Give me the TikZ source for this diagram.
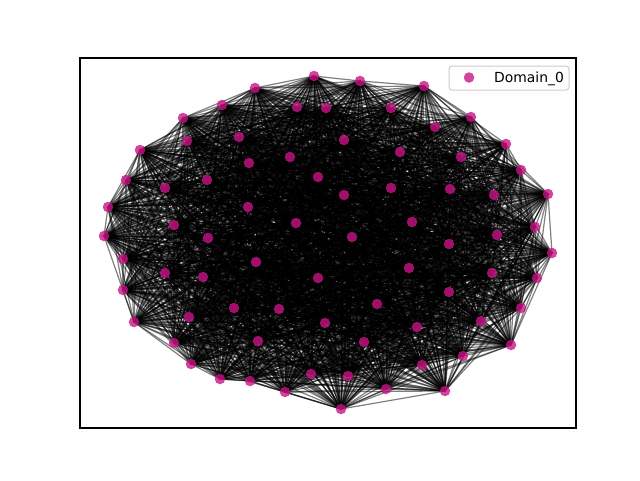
\documentclass[tikz,border=0pt]{standalone}
\usepackage{fontspec}
\setmainfont{DejaVu Sans}
\pgfdeclarelayer{bg}
\pgfsetlayers{bg,main}
\definecolor{dom}{RGB}{199,21,133}
\begin{document}
\begin{tikzpicture}[x=1pt,y=-1pt,
  dot/.style={circle,fill=dom,fill opacity=0.8,draw=none,inner sep=0pt,minimum size=10.5pt},
  edge/.style={black,opacity=0.5,line width=1.2pt},
  frame/.style={black,line width=1.1pt},
  legendbox/.style={draw=black!20,line width=1pt,fill=white,fill opacity=0.8,rounded corners=3pt}]
\useasboundingbox (0,0) rectangle (640,480);
\foreach \i/\x/\y in {1/314/76,2/360/81,3/424/86,4/471/117,5/506/144,6/521/170,7/548/194,8/535/227,9/552/253,10/537/278,
 11/521/308,12/511/345,13/463/356,14/445/391,15/422/365,16/386/389,17/348/376,18/341/409,19/311/374,20/285/392,
 21/250/381,22/220/379,23/191/364,24/174/343,25/134/322,26/123/290,27/123/259,28/104/236,29/108/207,30/126/180,
 31/140/150,32/183/118,33/222/105,34/255/88,35/297/107,36/326/108,37/391/108,38/435/127,39/461/157,40/494/195,
 41/497/235,42/492/273,43/481/321,44/449/292,45/417/327,46/377/304,47/325/323,48/279/309,49/258/341,50/234/308,
 51/189/317,52/165/273,53/174/225,54/165/188,55/187/141,56/239/137,57/249/163,58/290/157,59/344/140,60/400/152,
 61/450/189,62/449/244,63/412/222,64/391/188,65/344/195,66/318/177,67/248/207,68/207/180,69/208/238,70/203/277,
 71/256/262,72/296/223,73/352/237,74/409/268,75/318/278,76/364/342}
 {\node[dot] (n\i) at (\x,\y) {};}
\begin{pgfonlayer}{bg}
\fill[white] (0,0) rectangle (640,480);
\pgfmathsetseed{7}
\foreach \i in {1,...,76}{
  \foreach \j in {\i,...,76}{
    \ifnum\j>\i
      \pgfmathrandominteger{\rr}{1}{100}%
      \ifnum\rr<78 \draw[edge] (n\i.center) -- (n\j.center);\fi
    \fi
  }
}
\end{pgfonlayer}
\draw[frame] (80,58) rectangle (576,428);
\node[legendbox,minimum width=120pt,minimum height=24pt,inner sep=0pt] (leg) at (509,78) {};
\node[dot] (legdot) at (469,77.5) {};
\node[anchor=base west,inner sep=0pt,font=\fontsize{13.9}{16}\selectfont] (legtxt) at (494,82) {Domain\_0};
\end{tikzpicture}
\end{document}
